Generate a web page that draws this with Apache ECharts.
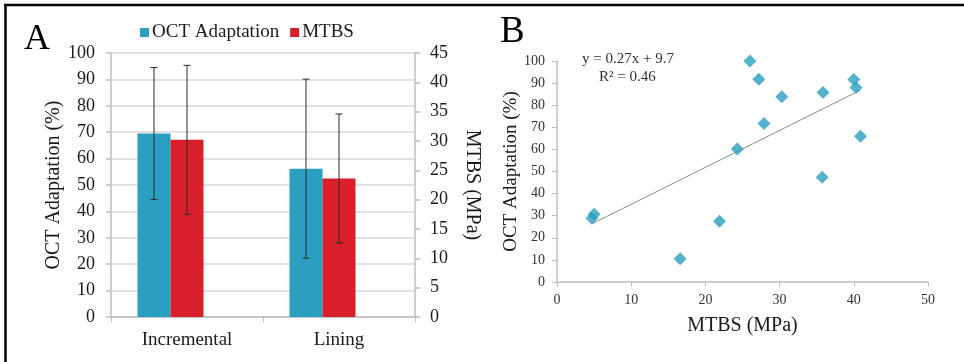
<!DOCTYPE html>
<html>
<head>
<meta charset="utf-8">
<script src="https://cdn.jsdelivr.net/npm/echarts@6/dist/echarts.min.js"></script>
<style>
  html, body { margin: 0; padding: 0; background: #fff; }
  #main { width: 964px; height: 362px; }
</style>
</head>
<body>
<div id="main"></div>
<script>
// panel A: bar chart with error bars
const groups = ['Incremental', 'Lining'];
const octMean = [69.5, 56.2];
const octSd = [25, 33.9];
const mtbsMean = [30.2, 23.6];
const mtbsSd = [12.7, 11];
const leftTicks = { min: 0, max: 100, interval: 10 };
const rightTicks = { min: 0, max: 45, interval: 5 };

// panel B: scatter of MTBS vs OCT adaptation
const mtbsX = [26.0, 27.2, 30.3, 27.9, 24.3, 35.85, 40.0, 40.3, 40.9, 35.75, 21.9, 16.6, 4.7, 5.0];
const octY = [100, 91.7, 83.8, 71.7, 60.2, 85.7, 91.6, 88.0, 65.9, 47.4, 27.5, 10.5, 28.9, 30.7];
const trendX = [4.7, 40.9];
const trendY = [26.3, 86.8];
const equation = 'y = 0.27x + 9.7';
const rSquared = 'R² = 0.46';

const BLUE = '#2b9fbf';
const RED = '#d91f2a';
const SERIF = '"Liberation Serif", "Times New Roman", serif';
const BAR_W = 33;

const chart = echarts.init(document.getElementById('main'));

// draws a vertical error bar with caps, shifted sideways by dx
function errorBar(dx) {
  return function (params, api) {
    const top = api.coord([api.value(0), api.value(2)]);
    const bot = api.coord([api.value(0), api.value(1)]);
    const x = top[0] + dx;
    const style = { stroke: '#2a2a2a', lineWidth: 1 };
    return {
      type: 'group',
      children: [
        { type: 'line', shape: { x1: x, y1: top[1], x2: x, y2: bot[1] }, style },
        { type: 'line', shape: { x1: x - 3.5, y1: top[1], x2: x + 3.5, y2: top[1] }, style },
        { type: 'line', shape: { x1: x - 3.5, y1: bot[1], x2: x + 3.5, y2: bot[1] }, style }
      ]
    };
  };
}

const octErr = groups.map((g, i) => [i, octMean[i] - octSd[i], octMean[i] + octSd[i]]);
const mtbsErr = groups.map((g, i) => [i, mtbsMean[i] - mtbsSd[i], mtbsMean[i] + mtbsSd[i]]);

const gridGray = '#d9d9d9';
const axisGray = '#bfbfbf';

chart.setOption({
  animation: false,
  textStyle: { fontFamily: SERIF },
  legend: {
    data: ['OCT Adaptation', 'MTBS'],
    left: 135,
    top: 18,
    icon: 'rect',
    itemWidth: 9,
    itemHeight: 9,
    itemGap: 11,
    textStyle: { fontFamily: SERIF, fontSize: 19, color: '#1a1a1a', padding: [0, 0, 0, -2] }
  },
  grid: [
    { left: 111, top: 53, width: 304, height: 264 },
    { left: 557, top: 61, width: 371, height: 221 }
  ],
  xAxis: [
    {
      gridIndex: 0,
      type: 'category',
      data: groups,
      axisLine: { lineStyle: { color: axisGray, width: 1.5 } },
      axisTick: { show: true, length: 5, lineStyle: { color: axisGray } },
      axisLabel: { fontFamily: SERIF, fontSize: 19, color: '#1a1a1a', margin: 14 }
    },
    {
      gridIndex: 1,
      type: 'value',
      min: 0, max: 50, interval: 10,
      name: 'MTBS (MPa)',
      nameLocation: 'middle',
      nameGap: 34,
      nameTextStyle: { fontFamily: SERIF, fontSize: 20, color: '#1a1a1a' },
      splitLine: { show: false },
      axisLine: { show: true, lineStyle: { color: axisGray, width: 1.5 } },
      axisTick: { show: true, length: 5, lineStyle: { color: axisGray } },
      axisLabel: { fontFamily: SERIF, fontSize: 14, color: '#333', margin: 11 }
    }
  ],
  yAxis: [
    {
      gridIndex: 0,
      type: 'value',
      min: leftTicks.min, max: leftTicks.max, interval: leftTicks.interval,
      name: 'OCT Adaptation (%)',
      nameLocation: 'middle',
      nameGap: 42,
      nameTextStyle: { fontFamily: SERIF, fontSize: 20, color: '#1a1a1a' },
      splitLine: { show: true, lineStyle: { color: gridGray, width: 1.5 } },
      axisLine: { show: true, lineStyle: { color: axisGray, width: 1.5 } },
      axisTick: { show: true, length: 5, lineStyle: { color: axisGray, width: 1.5 } },
      axisLabel: { fontFamily: SERIF, fontSize: 18, color: '#1a1a1a', margin: 16 }
    },
    {
      gridIndex: 0,
      type: 'value',
      position: 'right',
      min: rightTicks.min, max: rightTicks.max, interval: rightTicks.interval,
      name: 'MTBS (MPa)',
      nameLocation: 'middle',
      nameRotate: -90,
      nameGap: 47,
      nameTextStyle: { fontFamily: SERIF, fontSize: 20, color: '#1a1a1a' },
      splitLine: { show: false },
      axisLine: { show: true, lineStyle: { color: axisGray, width: 1.5 } },
      axisTick: { show: true, length: 5, lineStyle: { color: axisGray, width: 1.5 } },
      axisLabel: { fontFamily: SERIF, fontSize: 18, color: '#1a1a1a', margin: 15 }
    },
    {
      gridIndex: 1,
      type: 'value',
      min: 0, max: 100, interval: 10,
      name: 'OCT Adaptation (%)',
      nameLocation: 'middle',
      nameGap: 34,
      nameTextStyle: { fontFamily: SERIF, fontSize: 19, color: '#1a1a1a' },
      splitLine: { show: false },
      axisLine: { show: true, lineStyle: { color: axisGray, width: 1.5 } },
      axisTick: { show: true, length: 5, lineStyle: { color: axisGray } },
      axisLabel: { fontFamily: SERIF, fontSize: 14, color: '#333', margin: 12 }
    }
  ],
  series: [
    {
      name: 'OCT Adaptation',
      type: 'bar',
      xAxisIndex: 0, yAxisIndex: 0,
      data: octMean,
      barWidth: BAR_W,
      barGap: '0%',
      itemStyle: { color: BLUE }
    },
    {
      name: 'MTBS',
      type: 'bar',
      xAxisIndex: 0, yAxisIndex: 1,
      data: mtbsMean,
      barWidth: BAR_W,
      barGap: '0%',
      itemStyle: { color: RED }
    },
    {
      // empty slot so the pair sits left of the category centre, as in the original
      name: 'spacer',
      type: 'bar',
      xAxisIndex: 0, yAxisIndex: 0,
      data: ['-', '-'],
      barWidth: BAR_W,
      barGap: '0%'
    },
    {
      type: 'custom',
      xAxisIndex: 0, yAxisIndex: 0,
      data: octErr,
      renderItem: errorBar(-BAR_W),
      z: 5,
      silent: true
    },
    {
      type: 'custom',
      xAxisIndex: 0, yAxisIndex: 1,
      data: mtbsErr,
      renderItem: errorBar(0),
      z: 5,
      silent: true
    },
    {
      type: 'line',
      xAxisIndex: 1, yAxisIndex: 2,
      data: trendX.map((x, i) => [x, trendY[i]]),
      symbol: 'none',
      lineStyle: { color: '#8a8a8a', width: 1 },
      silent: true
    },
    {
      type: 'scatter',
      xAxisIndex: 1, yAxisIndex: 2,
      data: mtbsX.map((x, i) => [x, octY[i]]),
      symbol: 'diamond',
      symbolSize: 13,
      itemStyle: { color: BLUE },
      z: 3
    }
  ],
  graphic: [
    { type: 'line', shape: { x1: 4, y1: 5, x2: 964, y2: 5 }, style: { stroke: '#000', lineWidth: 2.5 } },
    { type: 'line', shape: { x1: 5.5, y1: 4, x2: 5.5, y2: 362 }, style: { stroke: '#000', lineWidth: 2.5 } },
    { type: 'text', left: 24, top: 22, style: { text: 'A', fontFamily: SERIF, fontSize: 36, fill: '#000' } },
    { type: 'text', left: 500, top: 14, style: { text: 'B', fontFamily: SERIF, fontSize: 37, fill: '#000' } },
    { type: 'text', left: 582, top: 52, style: { text: equation, fontFamily: SERIF, fontSize: 15, fill: '#333' } },
    { type: 'text', left: 599, top: 70, style: { text: rSquared, fontFamily: SERIF, fontSize: 15, fill: '#333' } }
  ]
});
</script>
</body>
</html>
